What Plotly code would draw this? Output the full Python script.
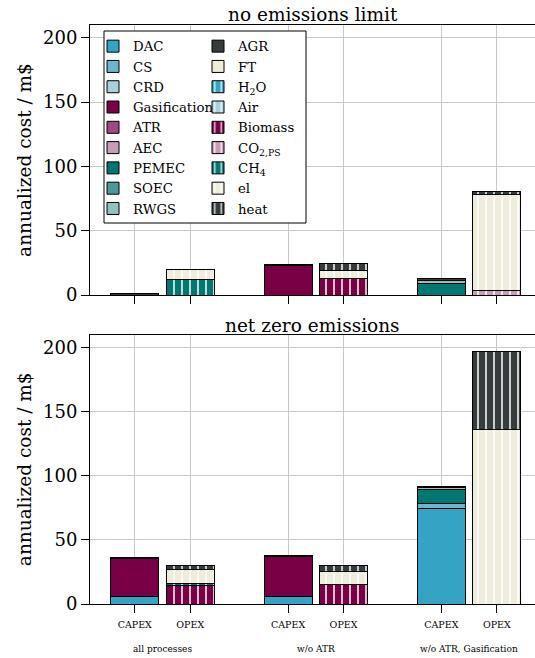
import plotly.graph_objects as go

# ---------------- data ----------------
groups = ["all processes", "w/o ATR", "w/o ATR, Gasification"]
bar_kinds = ["CAPEX", "OPEX"]
panel_titles = ["no emissions limit", "net zero emissions"]

capex_names = ["DAC", "CS", "CRD", "Gasification", "ATR", "AEC", "PEMEC", "SOEC", "RWGS", "AGR", "FT"]
opex_names = ["H2O", "Air", "Biomass", "CO2PS", "CH4", "el", "heat"]
legend_labels = {"H2O": "H<sub>2</sub>O", "CO2PS": "CO<sub>2,PS</sub>", "CH4": "CH<sub>4</sub>"}
legend1_names = ["DAC", "CS", "CRD", "Gasification", "ATR", "AEC", "PEMEC", "SOEC", "RWGS"]

# values per group: [all processes, w/o ATR, w/o ATR, Gasification]  (m$)
# --- no emissions limit ---
nolim_DAC = [0, 0, 0]
nolim_CS = [0, 0, 0]
nolim_Gasification = [0, 22.8, 0]
nolim_PEMEC = [0, 0, 9.0]
nolim_RWGS = [0, 0, 2.5]
nolim_AGR = [1.2, 1.0, 1.0]
nolim_Biomass = [0, 13.2, 0]
nolim_CO2PS = [0, 0, 3.5]
nolim_CH4 = [12.3, 0, 0]
nolim_el = [7.5, 6.0, 74.3]
nolim_heat = [0, 5.4, 2.4]
# --- net zero emissions ---
nz_DAC = [5.7, 5.7, 74.5]
nz_CS = [0, 0, 4.0]
nz_Gasification = [30.0, 31.1, 0]
nz_PEMEC = [0, 0, 10.4]
nz_RWGS = [0, 0, 2.0]
nz_AGR = [0.8, 0.8, 0.8]
nz_Biomass = [14.2, 15.0, 0]
nz_CO2PS = [0, 0, 0]
nz_CH4 = [1.8, 0, 0]
nz_el = [10.7, 10.6, 135.6]
nz_heat = [3.6, 4.7, 61.5]

zeros = [0, 0, 0]
panel_data = [
    {"DAC": nolim_DAC, "CS": nolim_CS, "Gasification": nolim_Gasification, "PEMEC": nolim_PEMEC,
     "RWGS": nolim_RWGS, "AGR": nolim_AGR, "Biomass": nolim_Biomass, "CO2PS": nolim_CO2PS,
     "CH4": nolim_CH4, "el": nolim_el, "heat": nolim_heat},
    {"DAC": nz_DAC, "CS": nz_CS, "Gasification": nz_Gasification, "PEMEC": nz_PEMEC,
     "RWGS": nz_RWGS, "AGR": nz_AGR, "Biomass": nz_Biomass, "CO2PS": nz_CO2PS,
     "CH4": nz_CH4, "el": nz_el, "heat": nz_heat},
]

colors = {
    "DAC": "#35a4c4", "CS": "#6cb6cc", "CRD": "#a9d0da", "Gasification": "#7a0046",
    "ATR": "#9f4a82", "AEC": "#c89bb7", "PEMEC": "#007771", "SOEC": "#4c9a97",
    "RWGS": "#94c0be", "AGR": "#363b3c", "FT": "#eeeddb",
    "H2O": "#35a4c4", "Air": "#a9d0da", "Biomass": "#7a0046", "CO2PS": "#c89bb7",
    "CH4": "#007771", "el": "#eeeddb", "heat": "#363b3c",
}

# ---------------- layout geometry ----------------
W, H = 535, 658
ml, mr, mt, mb = 90, 0, 25, 54
plot_h = H - mt - mb
plot_w = W - ml - mr
top_dom = [(H - mb - 295) / plot_h, 1.0]
bot_dom = [0.0, (H - mb - 334.5) / plot_h]
d = 0.181        # half distance CAPEX/OPEX
bw = 0.313       # bar width
xrange_ = [-0.473, 2.430]
yrange_ = [0, 210]
FONT = "DejaVu Serif"

fig = go.Figure()
for p in range(2):
    xa = "x" if p == 0 else "x2"
    ya = "y" if p == 0 else "y2"
    for kind, names in (("CAPEX", capex_names), ("OPEX", opex_names)):
        xs = [g - d if kind == "CAPEX" else g + d for g in range(len(groups))]
        for name in names:
            vals = panel_data[p].get(name, zeros)
            ys = [v if v else None for v in vals]
            marker = dict(color=colors[name], line=dict(color="black", width=1))
            if kind == "OPEX":
                marker["pattern"] = dict(shape="|", fgcolor="white", fgopacity=0.85,
                                         size=8, solidity=0.22)
            fig.add_trace(go.Bar(
                x=xs, y=ys, width=bw, name=legend_labels.get(name, name),
                marker=marker, xaxis=xa, yaxis=ya,
                legendgroup=name, showlegend=(p == 0),
                legend="legend" if name in legend1_names else "legend2",
                hoverinfo="name+y",
            ))

tickvals = [g + s for g in range(len(groups)) for s in (-d, d)]
ticktext = [k for g in groups for k in bar_kinds]

axis_common = dict(showline=True, linecolor="black", linewidth=1, mirror=True,
                   showgrid=True, gridcolor="#c8c8c8", gridwidth=1, zeroline=False,
                   ticks="outside", ticklen=8, tickcolor="black", tickwidth=1)
yaxis_common = {**axis_common, "mirror": False}
ytitle = dict(text="annualized cost / m$", font=dict(size=18.5), standoff=6)

fig.update_layout(
    width=W, height=H, margin=dict(l=ml, r=mr, t=mt, b=mb),
    paper_bgcolor="white", plot_bgcolor="white",
    barmode="stack",
    font=dict(family=FONT, color="black", size=16),
    xaxis=dict(domain=[0, 1], anchor="y", range=xrange_, tickvals=tickvals,
               showticklabels=False, **axis_common),
    xaxis2=dict(domain=[0, 1], anchor="y2", range=xrange_, tickvals=tickvals,
                ticktext=ticktext, tickfont=dict(size=9.5), ticklabelstandoff=4,
                **axis_common),
    yaxis=dict(domain=top_dom, anchor="x", range=yrange_, tickvals=[0, 50, 100, 150, 200],
               title=ytitle, tickfont=dict(size=18), **yaxis_common),
    yaxis2=dict(domain=bot_dom, anchor="x2", range=yrange_, tickvals=[0, 50, 100, 150, 200],
                title=ytitle, tickfont=dict(size=18), **yaxis_common),
    legend=dict(x=(93 - ml) / plot_w, y=(H - mb - 31) / plot_h, xanchor="left", yanchor="top",
                traceorder="normal", font=dict(size=13.3), bgcolor="rgba(0,0,0,0)",
                borderwidth=0, itemclick=False),
    legend2=dict(x=(198 - ml) / plot_w, y=(H - mb - 31) / plot_h, xanchor="left", yanchor="top",
                 traceorder="normal", font=dict(size=13.3), bgcolor="rgba(0,0,0,0)",
                 borderwidth=0, itemclick=False),
    shapes=[dict(type="rect", xref="paper", yref="paper",
                 x0=(104 - ml) / plot_w, x1=(306 - ml) / plot_w,
                 y0=(H - mb - 223) / plot_h, y1=(H - mb - 31) / plot_h,
                 line=dict(color="black", width=1), fillcolor="white", layer="above")],
    showlegend=True,
)

annotations = [
    dict(text=panel_titles[0], xref="paper", yref="paper", x=0.5, y=(H - mb - 14) / plot_h,
         xanchor="center", yanchor="middle", showarrow=False, font=dict(size=18.5)),
    dict(text=panel_titles[1], xref="paper", yref="paper", x=0.5, y=(H - mb - 325) / plot_h,
         xanchor="center", yanchor="middle", showarrow=False, font=dict(size=18.5)),
]
for g, label in enumerate(groups):
    annotations.append(dict(text=label, xref="x2", yref="paper", x=g, y=(H - mb - 649) / plot_h,
                            xanchor="center", yanchor="middle", showarrow=False,
                            font=dict(size=9)))
fig.update_layout(annotations=annotations)

fig.write_html("out.html")
